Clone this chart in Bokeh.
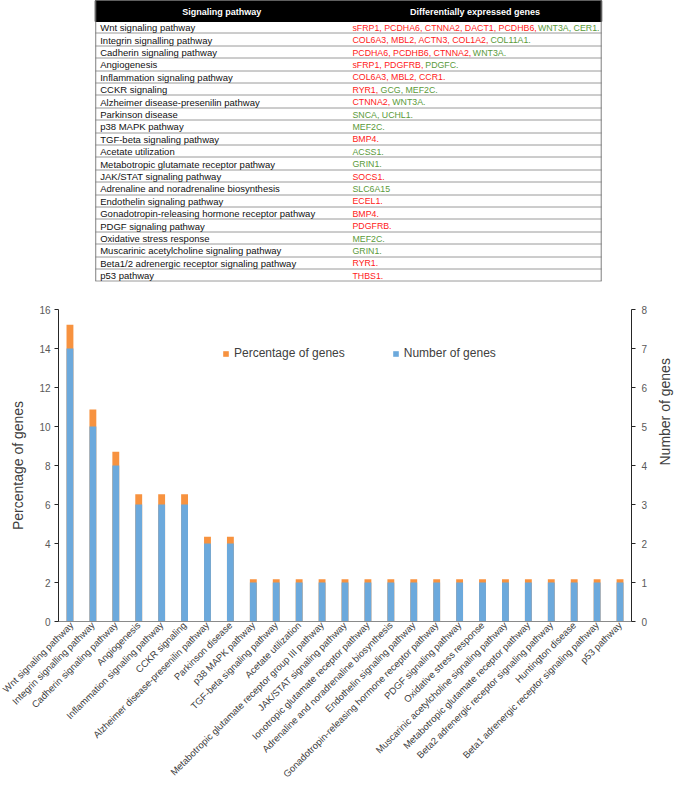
import math
from bokeh.plotting import figure
from bokeh.models import FactorRange, Range1d, LinearAxis, Legend, LegendItem, FixedTicker
from bokeh.layouts import column
from bokeh.embed import file_html
from bokeh.resources import INLINE
from bokeh.core.properties import value

# ---------------- data ----------------
categories = [
    "Wnt signaling pathway", "Integrin signalling pathway", "Cadherin signaling pathway",
    "Angiogenesis", "Inflammation signaling pathway", "CCKR signaling",
    "Alzheimer disease-presenilin pathway", "Parkinson disease", "p38 MAPK pathway",
    "TGF-beta signaling pathway", "Acetate utilization",
    "Metabotropic glutamate receptor group III pathway", "JAK/STAT signaling pathway",
    "Ionotropic glutamate receptor pathway", "Adrenaline and noradrenaline biosynthesis",
    "Endothelin signaling pathway", "Gonadotropin-releasing hormone receptor pathway",
    "PDGF signaling pathway", "Oxidative stress response",
    "Muscarinic acetylcholine signaling pathway", "Metabotropic glutamate receptor pathway",
    "Beta2 adrenergic receptor signaling pathway", "Huntington disease",
    "Beta1 adrenergic receptor signaling pathway", "p53 pathway",
]
gene_counts = [7, 5, 4, 3, 3, 3, 2, 2, 1, 1, 1, 1, 1, 1, 1, 1, 1, 1, 1, 1, 1, 1, 1, 1, 1]
gene_pct = [15.22, 10.87, 8.70, 6.52, 6.52, 6.52, 4.35, 4.35, 2.17, 2.17, 2.17, 2.17, 2.17,
            2.17, 2.17, 2.17, 2.17, 2.17, 2.17, 2.17, 2.17, 2.17, 2.17, 2.17, 2.17]
pct_ticks = [0, 2, 4, 6, 8, 10, 12, 14, 16]
count_ticks = [0, 1, 2, 3, 4, 5, 6, 7, 8]

table_header = ["Signaling pathway", "Differentially expressed genes"]
table_pathways = [
    "Wnt signaling pathway", "Integrin signalling pathway", "Cadherin signaling pathway",
    "Angiogenesis", "Inflammation signaling pathway", "CCKR signaling",
    "Alzheimer disease-presenilin pathway", "Parkinson disease", "p38 MAPK pathway",
    "TGF-beta signaling pathway", "Acetate utilization",
    "Metabotropic glutamate receptor pathway", "JAK/STAT signaling pathway",
    "Adrenaline and noradrenaline biosynthesis", "Endothelin signaling pathway",
    "Gonadotropin-releasing hormone receptor pathway", "PDGF signaling pathway",
    "Oxidative stress response", "Muscarinic acetylcholine signaling pathway",
    "Beta1/2 adrenergic receptor signaling pathway", "p53 pathway",
]
table_red_genes = [
    "sFRP1, PCDHA6, CTNNA2, DACT1, PCDHB6,", "COL6A3, MBL2, ACTN3, COL1A2,",
    "PCDHA6, PCDHB6, CTNNA2,", "sFRP1, PDGFRB,", "COL6A3, MBL2, CCR1.", "RYR1,",
    "CTNNA2,", "", "", "BMP4.", "", "", "SOCS1.", "", "ECEL1.", "BMP4.", "PDGFRB.",
    "", "", "RYR1.", "THBS1.",
]
table_green_genes = [
    "WNT3A, CER1.", "COL11A1.", "WNT3A.", "PDGFC.", "", "GCG, MEF2C.", "WNT3A.",
    "SNCA, UCHL1.", "MEF2C.", "", "ACSS1.", "GRIN1.", "", "SLC6A15", "", "", "",
    "MEF2C.", "GRIN1.", "", "",
]

# ---------------- styles ----------------
FONT = "Liberation Sans"
ORANGE = "#F7923F"
BLUE = "#6CA9DC"
RED = "#FF1A1A"
GREEN = "#5A9A3A"

# Arial / Liberation Sans advance widths (per 1000 em) used to place coloured runs
_W = {}
for ch, w in zip("ABCDEFGHIJKLMNOPQRSTUVWXYZ",
                 [667, 667, 722, 722, 667, 611, 778, 722, 278, 500, 667, 556, 833,
                  722, 778, 667, 778, 722, 667, 611, 722, 667, 944, 667, 667, 611]):
    _W[ch] = w
for ch in "0123456789":
    _W[ch] = 556
_W.update({",": 278, ".": 278, " ": 278, "s": 500, "-": 333, "/": 278})


def text_width(s, size):
    return sum(_W.get(c, 556) for c in s) * size / 1000.0


W = 684
BL, BR = 58, 49            # frame borders shared by both figures
FX0, FX1 = BL, W - BR      # frame extent in page pixels

# ---------------- table figure ----------------
TH = 283
hdr_h = 21.0
row_h = 12.4
n_rows = len(table_pathways)
t_left, t_right = 95, 605
col_split = 350
gene_size = 8.8

tbl = figure(width=W, height=TH, x_range=Range1d(FX0, FX1), y_range=Range1d(TH, 0),
             output_backend="svg", toolbar_location=None,
             min_border_left=BL, min_border_right=BR, min_border_top=0, min_border_bottom=0,
             x_axis_location=None, y_axis_location=None, outline_line_color=None)
tbl.grid.grid_line_color = None

tbl.quad(left=[t_left], right=[t_right], top=[0], bottom=[hdr_h],
         fill_color="black", line_color="black")
tbl.text(x=[(t_left + col_split) / 2, (col_split + t_right) / 2], y=[hdr_h / 2 + 1] * 2,
         text=table_header, text_color="white", text_font=value(FONT),
         text_font_style="bold", text_font_size="9px", text_align="center",
         text_baseline="middle")

line_y = [round(hdr_h + (i + 1) * row_h) - 0.5 for i in range(n_rows)]
tbl.segment(x0=[t_left] * n_rows, x1=[t_right] * n_rows, y0=line_y, y1=line_y,
            line_color="#9a9a9a", line_width=1)
tbl.segment(x0=[t_left + 0.5, t_right - 0.5], x1=[t_left + 0.5, t_right - 0.5],
            y0=[0, 0], y1=[line_y[-1], line_y[-1]], line_color="#7f7f7f", line_width=1)

row_y = [hdr_h + (i + 0.5) * row_h for i in range(n_rows)]
tbl.text(x=[t_left + 5] * n_rows, y=row_y, text=table_pathways, text_color="#111111",
         text_font=value(FONT), text_font_size="9.5px", text_baseline="middle")

gx = col_split + 4
red_x, red_y, red_t, green_x, green_y, green_t = [], [], [], [], [], []
for i in range(n_rows):
    r = table_red_genes[i]
    g = table_green_genes[i]
    if r:
        red_x.append(gx)
        red_y.append(row_y[i])
        red_t.append(r)
    if g:
        green_x.append(gx + (text_width(r + " ", gene_size) if r else 0))
        green_y.append(row_y[i])
        green_t.append(g)
tbl.text(x=red_x, y=red_y, text=red_t, text_color=RED, text_font=value(FONT),
         text_font_size="8.8px", text_baseline="middle")
tbl.text(x=green_x, y=green_y, text=green_t, text_color=GREEN, text_font=value(FONT),
         text_font_size="8.8px", text_baseline="middle")

# ---------------- chart figure ----------------
CH = 786 - TH
p = figure(width=W, height=CH, x_range=FactorRange(factors=categories, range_padding=0),
           y_range=Range1d(0, 16), output_backend="svg", toolbar_location=None,
           min_border_left=BL, min_border_right=BR, min_border_top=26, min_border_bottom=10,
           outline_line_color=None)
p.extra_y_ranges = {"n": Range1d(0, 8)}
p.grid.grid_line_color = None

r_pct = p.vbar(x=categories, top=gene_pct, width=0.3, fill_color=ORANGE, line_color=None)
r_cnt = p.vbar(x=categories, top=gene_counts, width=0.3, fill_color=BLUE, line_color=None,
               y_range_name="n")

yl = p.yaxis[0]
yl.ticker = FixedTicker(ticks=pct_ticks)
yl.axis_label = "Percentage of genes"

yr = LinearAxis(y_range_name="n", ticker=FixedTicker(ticks=count_ticks),
                axis_label="Number of genes")
p.add_layout(yr, "right")

for ax in (yl, yr):
    ax.axis_line_color = "#262626"
    ax.major_tick_line_color = "#262626"
    ax.major_tick_out = 4
    ax.major_tick_in = 0
    ax.minor_tick_line_color = None
    ax.major_label_text_font = FONT
    ax.major_label_text_font_size = "10px"
    ax.major_label_text_color = "#595959"
    ax.axis_label_text_font = FONT
    ax.axis_label_text_font_size = "14px"
    ax.axis_label_text_font_style = "normal"
    ax.axis_label_text_color = "#404040"
yl.major_label_standoff = 4
yr.major_label_standoff = 6
yl.axis_label_standoff = 10
yr.axis_label_standoff = 15
try:
    yr.axis_label_orientation = math.pi / 2
except Exception:
    pass

xa = p.xaxis[0]
xa.axis_line_color = "#8a8a8a"
xa.major_tick_line_color = None
xa.minor_tick_line_color = None
xa.major_tick_out = 0
xa.major_label_orientation = math.pi / 4
xa.major_label_text_font = FONT
xa.major_label_text_font_size = "9.5px"
xa.major_label_text_color = "#404040"
xa.major_label_standoff = 2

legend = Legend(items=[LegendItem(label="Percentage of genes", renderers=[r_pct]),
                       LegendItem(label="Number of genes", renderers=[r_cnt])],
                orientation="horizontal", location=(164, 261), padding=0, margin=0,
                spacing=47, glyph_width=7, glyph_height=7, label_standoff=5,
                label_height=14, label_text_font=FONT, label_text_font_size="12px",
                label_text_color="#404040", border_line_color=None,
                background_fill_alpha=0)
p.add_layout(legend)

layout = column(tbl, p)
open("out.html", "w").write(file_html(layout, INLINE))
